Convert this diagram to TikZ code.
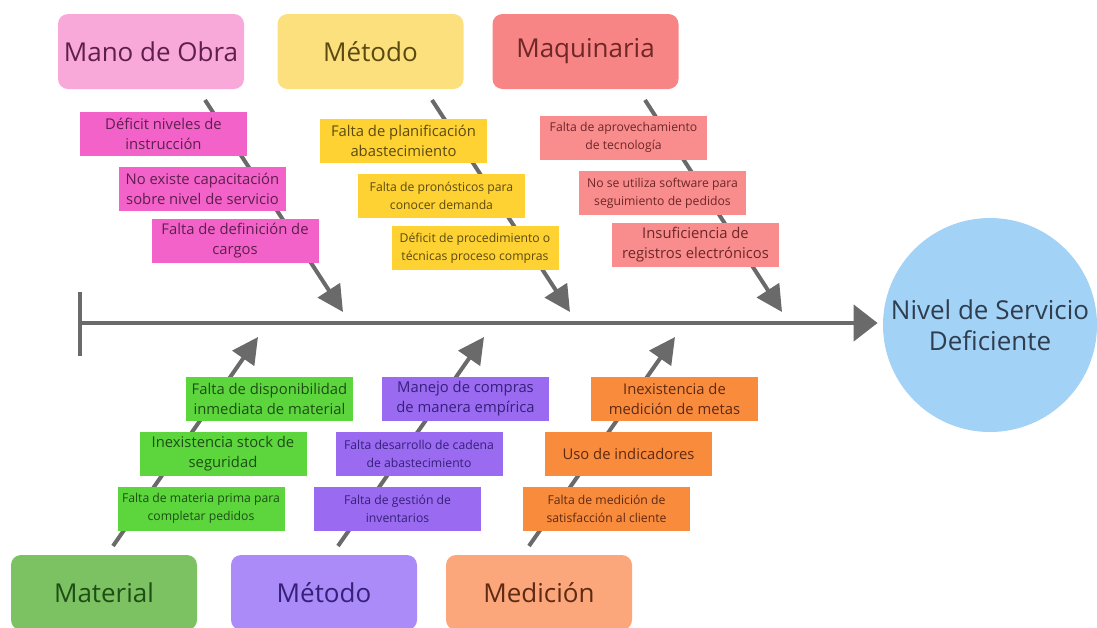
\documentclass[tikz,border=0pt]{standalone}
\usepackage{fontspec}
\setmainfont{Open Sans}
\usetikzlibrary{arrows.meta}

\definecolor{grisespina}{HTML}{6A6A6A}
\definecolor{rosacat}{HTML}{F9A9D9}
\definecolor{rosacausa}{HTML}{F362C8}
\definecolor{rosatxt}{HTML}{5E1F4E}
\definecolor{amarcat}{HTML}{FCE07E}
\definecolor{amarcausa}{HTML}{FFD233}
\definecolor{amartxt}{HTML}{5A4A10}
\definecolor{rojocat}{HTML}{F88585}
\definecolor{rojocausa}{HTML}{F98D8E}
\definecolor{rojotxt}{HTML}{6E2626}
\definecolor{verdecat}{HTML}{7DC262}
\definecolor{verdecausa}{HTML}{5CD63C}
\definecolor{verdetxt}{HTML}{1E4E16}
\definecolor{moradocat}{HTML}{AA8BF7}
\definecolor{moradocausa}{HTML}{9A6BF0}
\definecolor{moradotxt}{HTML}{36207A}
\definecolor{naranjacat}{HTML}{FBA67B}
\definecolor{naranjacausa}{HTML}{F98B3D}
\definecolor{naranjatxt}{HTML}{5E2A12}
\definecolor{azulefecto}{HTML}{A3D2F7}
\definecolor{azultxt}{HTML}{2E3E4E}

\begin{document}
\begin{tikzpicture}[x=0.5pt, y=-0.5pt,
    categoria/.style={rounded corners=5pt, minimum width=93pt, minimum height=37.5pt, inner sep=0pt, font=\fontsize{13}{16}\selectfont},
    causa/.style={minimum width=83.5pt, minimum height=22pt, inner sep=1pt, align=center},
    txtgrande/.style={font=\fontsize{7.4}{10}\selectfont},
    txtchico/.style={font=\fontsize{6.1}{9}\selectfont},
    hueso/.style={draw=grisespina, line width=2pt, -{Triangle[length=13pt,width=13pt]}},
    espina/.style={draw=grisespina, line width=2.3pt, -{Triangle[length=12pt,width=18pt]}}]
  \useasboundingbox (0,0) rectangle (1097,627);

  % 1. efecto y espina central
  \node[circle, fill=azulefecto, minimum size=107pt, inner sep=0pt, align=center,
        text=azultxt, font=\fontsize{13}{15.5}\selectfont] (efecto) at (990,325) {Nivel de Servicio\\Deficiente};
  \coordinate (cola) at (80,323);
  \draw[espina, shorten >=2.5pt] (cola) -- (cola -| efecto.west);
  \draw[grisespina, line width=2.3pt] (80,292) -- (80,356);

  % 2. categorias (arriba y abajo)
  \node[categoria, fill=rosacat, text=rosatxt] (manoobra) at (151,51.5) {Mano de Obra};
  \node[categoria, fill=amarcat, text=amartxt] (metodoarr) at (370.5,51.5) {Método};
  \node[categoria, fill=rojocat, text=rojotxt] (maquinaria) at (585.5,51.5) {Maquinaria};
  \node[categoria, fill=verdecat, text=verdetxt] (material) at (104,592.5) {Material};
  \node[categoria, fill=moradocat, text=moradotxt] (metodoab) at (324,592.5) {Método};
  \node[categoria, fill=naranjacat, text=naranjatxt] (medicion) at (539,592.5) {Medición};

  % 3. huesos (debajo de las causas)
  \coordinate (manoini) at (205,100);    \coordinate (manofin) at (343,312);
  \coordinate (metarrini) at (432,100);  \coordinate (metarrfin) at (570,312);
  \coordinate (maqini) at (645,100);     \coordinate (maqfin) at (782,312);
  \coordinate (matini) at (113,546);     \coordinate (matfin) at (258,337);
  \coordinate (metabini) at (338,546);   \coordinate (metabfin) at (484,337);
  \coordinate (medini) at (529,546);     \coordinate (medfin) at (675,337);
  \draw[hueso] (manoini) -- (manofin);
  \draw[hueso] (metarrini) -- (metarrfin);
  \draw[hueso] (maqini) -- (maqfin);
  \draw[hueso] (matini) -- (matfin);
  \draw[hueso] (metabini) -- (metabfin);
  \draw[hueso] (medini) -- (medfin);

  % 4. causas: Mano de Obra
  \node[causa, txtgrande, fill=rosacausa, text=rosatxt] (mano1) at (163.5,134) {Déficit niveles de\\instrucción};
  \node[causa, txtgrande, fill=rosacausa, text=rosatxt] (mano2) at (202.5,189) {No existe capacitación\\sobre nivel de servicio};
  \node[causa, txtgrande, fill=rosacausa, text=rosatxt] (mano3) at (235,241) {Falta de definición de\\cargos};

  % causas: Método (arriba)
  \node[causa, txtgrande, fill=amarcausa, text=amartxt] (metarr1) at (403.5,140.5) {Falta de planificación\\abastecimiento};
  \node[causa, txtchico, fill=amarcausa, text=amartxt] (metarr2) at (441.5,196) {Falta de pronósticos para\\conocer demanda};
  \node[causa, txtchico, fill=amarcausa, text=amartxt] (metarr3) at (475,248) {Déficit de procedimiento o\\técnicas proceso compras};

  % causas: Maquinaria
  \node[causa, txtchico, fill=rojocausa, text=rojotxt] (maq1) at (623.5,137.5) {Falta de aprovechamiento\\de tecnología};
  \node[causa, txtchico, fill=rojocausa, text=rojotxt] (maq2) at (662.5,193) {No se utiliza software para\\seguimiento de pedidos};
  \node[causa, txtgrande, fill=rojocausa, text=rojotxt] (maq3) at (695.5,245) {Insuficiencia de\\registros electrónicos};

  % causas: Material
  \node[causa, txtgrande, fill=verdecausa, text=verdetxt] (mat1) at (269.5,398.5) {Falta de disponibilidad\\inmediata de material};
  \node[causa, txtgrande, fill=verdecausa, text=verdetxt] (mat2) at (223,453.5) {Inexistencia stock de\\seguridad};
  \node[causa, txtchico, fill=verdecausa, text=verdetxt] (mat3) at (201,508.5) {Falta de materia prima para\\completar pedidos};

  % causas: Método (abajo)
  \node[causa, txtgrande, fill=moradocausa, text=moradotxt] (metab1) at (465.5,398.5) {Manejo de compras\\de manera empírica};
  \node[causa, txtchico, fill=moradocausa, text=moradotxt] (metab2) at (419,453.5) {Falta desarrollo de cadena\\de abastecimiento};
  \node[causa, txtchico, fill=moradocausa, text=moradotxt] (metab3) at (397.5,508.5) {Falta de gestión de\\inventarios};

  % causas: Medición
  \node[causa, txtgrande, fill=naranjacausa, text=naranjatxt] (med1) at (674.5,398.5) {Inexistencia de\\medición de metas};
  \node[causa, txtgrande, fill=naranjacausa, text=naranjatxt] (med2) at (628.5,453.5) {Uso de indicadores};
  \node[causa, txtchico, fill=naranjacausa, text=naranjatxt] (med3) at (606.5,508.5) {Falta de medición de\\satisfacción al cliente};
\end{tikzpicture}
\end{document}
